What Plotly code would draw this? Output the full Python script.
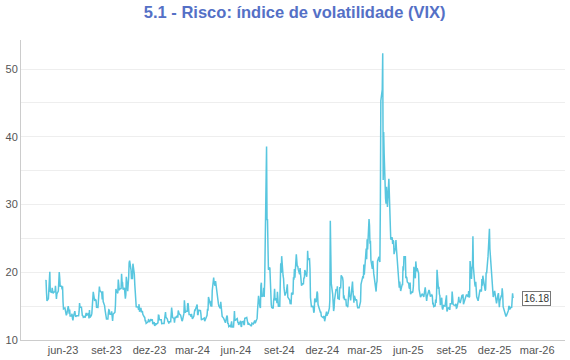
import pandas as pd
import plotly.graph_objects as go

# VIX daily closes (weekdays)
vix_2023 = [
    18.76, 18.84, 17.03, 15.78,  # Apr (from 25th)
    16.08, 17.78, 18.34, 20.09, 17.19, 16.98, 17.71, 16.94, 16.88, 17.03, 17.12, 17.99, 16.87, 16.05, 16.81, 17.21, 18.53, 20.03, 19.14, 17.95, 17.95, 17.46, 17.94,  # May
    15.65, 14.60, 14.73, 13.96, 13.94, 13.65, 13.83, 15.01, 14.61, 13.88, 14.50, 13.54, 13.54, 13.88, 13.20, 12.91, 13.44, 14.25, 13.74, 13.43, 13.54, 13.59,  # Jun
    13.57, 13.57, 14.18, 15.44, 14.83, 14.84, 14.05, 13.54, 13.61, 13.34, 13.48, 13.30, 13.76, 13.99, 13.60, 13.91, 13.86, 13.19, 14.41, 13.33, 13.63,  # Jul
    13.93, 16.09, 15.92, 17.10, 15.77, 15.99, 15.96, 15.85, 14.84, 14.82, 16.46, 16.78, 17.89, 17.30, 17.13, 16.97, 15.98, 17.20, 15.68, 15.08, 14.45, 14.21, 13.57,  # Aug
    13.09, 13.09, 14.02, 14.45, 14.40, 13.84, 13.80, 14.23, 13.48, 12.82, 13.79, 14.00, 14.11, 15.14, 17.54, 17.20, 16.90, 18.94, 18.22, 17.34, 17.52,  # Sep
    17.61, 19.78, 18.58, 18.49, 17.45, 17.70, 17.03, 16.09, 16.69, 19.32, 17.21, 17.88, 19.22, 21.40, 21.71, 20.37, 18.97, 20.19, 18.97, 21.27, 19.75, 18.14,  # Oct
    16.87, 15.66, 14.91, 14.89, 14.81, 14.45, 15.29, 14.17, 14.76, 14.16, 14.18, 14.32, 13.80, 13.41, 13.35, 12.85, 12.85, 12.46, 12.69, 12.69, 12.98, 12.92,  # Nov
    12.63, 13.08, 12.85, 12.97, 13.06, 12.35, 12.63, 12.07, 12.19, 12.48, 12.28, 12.56, 12.53, 13.67, 13.65, 13.03, 13.03, 12.99, 12.43, 12.47, 12.45,  # Dec
]
vix_2024 = [
    12.45, 13.20, 14.04, 14.13, 13.35, 13.08, 12.76, 12.69, 12.44, 12.70, 12.70, 13.84, 14.79, 14.13, 13.30, 13.19, 12.55, 13.14, 13.45, 13.26, 13.60, 13.31, 14.35,  # Jan
    13.88, 13.85, 13.67, 13.06, 12.83, 12.79, 12.93, 13.93, 15.85, 14.38, 14.01, 14.24, 14.24, 15.42, 15.34, 14.54, 13.75, 13.74, 13.43, 13.84, 13.40,  # Feb
    13.11, 13.49, 14.46, 14.50, 14.44, 14.74, 15.23, 13.75, 13.75, 14.40, 14.41, 14.33, 13.82, 12.92, 13.06, 13.06, 13.19, 13.24, 12.78, 13.01, 13.01,  # Mar
    13.65, 14.61, 14.33, 16.35, 16.03, 15.19, 14.98, 15.80, 14.91, 17.31, 19.23, 18.40, 18.21, 18.00, 18.71, 16.94, 15.69, 15.97, 15.37, 15.03, 14.67, 15.65,  # Apr
    14.80, 14.68, 13.49, 13.23, 13.00, 13.00, 12.69, 12.55, 13.60, 13.42, 12.45, 12.42, 11.99, 12.15, 11.86, 12.29, 12.77, 11.93, 11.93, 12.92, 14.27, 12.91, 12.92,  # May
    13.11, 13.16, 12.63, 12.58, 12.22, 12.74, 12.85, 12.04, 11.94, 12.66, 12.75, 12.30, 12.30, 13.28, 13.20, 13.33, 12.84, 12.55, 12.24, 12.44,  # Jun
    12.22, 12.03, 12.09, 12.09, 12.48, 12.37, 12.51, 12.85, 12.89, 12.46, 13.12, 13.19, 14.48, 15.93, 16.52, 14.91, 14.72, 18.04, 18.46, 16.39, 16.60, 17.69, 16.36,  # Jul
    18.59, 23.39, 38.57, 27.71, 27.85, 23.79, 20.37, 20.71, 18.12, 16.19, 15.23, 14.80, 14.65, 15.88, 16.27, 17.55, 15.86, 16.15, 15.43, 17.11, 15.65, 15.00,  # Aug
    15.00, 20.72, 21.32, 19.90, 22.38, 19.45, 19.08, 17.69, 17.07, 16.56, 17.14, 17.61, 18.23, 16.33, 16.15, 15.89, 15.39, 15.41, 15.37, 16.96, 16.73,  # Sep
    19.26, 18.90, 20.49, 19.21, 22.64, 21.42, 20.86, 20.93, 20.46, 19.70, 20.64, 19.58, 19.11, 18.03, 18.37, 18.20, 19.24, 19.08, 20.33, 19.80, 19.34, 20.35, 23.16,  # Oct
    21.88, 21.98, 20.49, 16.27, 15.20, 14.94, 14.97, 14.71, 14.02, 14.31, 16.14, 15.58, 16.35, 17.16, 16.87, 15.24, 14.60, 14.10, 14.10, 14.10, 13.51,  # Nov
    13.34, 13.30, 13.45, 13.54, 12.77, 14.19, 14.18, 13.58, 13.92, 13.81, 14.69, 15.87, 27.62, 24.09, 18.36, 16.78, 14.27, 14.27, 14.73, 15.95, 17.40, 17.35,  # Dec
]
vix_2025 = [
    17.35, 17.93, 16.13, 16.04, 17.82, 17.70, 17.70, 19.54, 19.19, 18.71, 16.12, 16.60, 15.97, 15.97, 15.06, 15.10, 15.02, 14.85, 17.90, 16.41, 16.56, 15.84, 16.43,  # Jan
    18.62, 17.21, 15.77, 15.50, 16.54, 15.81, 16.02, 15.89, 15.10, 14.77, 14.77, 15.35, 15.27, 15.66, 18.21, 18.98, 19.43, 19.10, 21.13, 19.63,  # Feb
    22.78, 23.51, 21.93, 24.87, 23.37, 27.86, 26.92, 24.23, 24.66, 21.77, 20.51, 21.70, 19.90, 19.80, 19.28, 17.48, 17.15, 18.33, 18.69, 21.65, 22.28,  # Mar
    21.77, 21.51, 30.02, 45.31, 46.98, 52.33, 33.62, 40.72, 37.56, 30.89, 30.12, 32.64, 29.65, 29.65, 33.82, 30.57, 28.45, 26.47, 24.84, 25.15, 24.17, 24.70,  # Apr
    24.60, 22.68, 23.64, 24.76, 23.55, 22.48, 21.90, 18.39, 17.72, 18.62, 17.83, 17.24, 18.14, 18.09, 20.87, 20.28, 22.29, 22.29, 19.11, 19.31, 19.18, 18.57,  # May
    18.36, 17.69, 17.61, 18.48, 16.77, 17.16, 16.95, 17.26, 18.02, 20.82, 19.11, 21.60, 20.14, 20.14, 20.62, 19.83, 17.48, 16.76, 16.59, 16.32, 16.73,  # Jun
    16.83, 16.64, 16.38, 16.38, 17.79, 16.81, 15.94, 15.78, 16.40, 17.20, 17.38, 17.16, 16.52, 16.41, 16.65, 16.50, 15.37, 15.39, 14.93, 15.03, 15.98, 15.48, 16.72,  # Jul
    20.38, 17.52, 17.85, 16.77, 16.57, 15.15, 16.25, 14.73, 14.49, 14.83, 15.09, 14.99, 15.57, 15.69, 16.60, 14.22, 14.79, 14.62, 14.85, 14.43, 15.36,  # Aug
    15.36, 17.17, 16.35, 15.30, 15.18, 15.11, 15.04, 15.35, 14.71, 14.76, 15.69, 16.36, 15.72, 15.70, 15.45, 16.10, 16.64, 16.18, 16.74, 15.29, 16.12, 16.28,  # Sep
    16.29, 16.63, 16.65, 16.37, 17.24, 16.30, 16.43, 21.66, 19.03, 20.81, 20.64, 25.31, 20.78, 18.23, 17.87, 18.60, 17.30, 16.37, 15.79, 16.42, 16.92, 16.91, 17.44,  # Oct
    17.17, 19.00, 18.01, 19.50, 19.08, 17.60, 17.28, 17.51, 20.00, 19.83, 22.38, 24.69, 23.66, 26.42, 23.43, 20.52, 18.56, 17.19, 17.19, 16.35,  # Nov
    17.24, 16.59, 16.08, 15.78, 15.41, 16.66, 16.93, 15.77, 14.85, 15.74, 16.50, 16.48, 17.62, 16.87, 14.91, 14.08, 14.00, 13.47, 13.47, 13.60, 14.20, 14.33, 14.95,  # Dec
]
vix_2026 = [14.95, 14.51, 14.90, 14.75, 15.38, 16.90, 16.18]  # Jan 1-9

year_spans = [("2023-04-25", "2023-12-31", vix_2023),
              ("2024-01-01", "2024-12-31", vix_2024),
              ("2025-01-01", "2025-12-31", vix_2025),
              ("2026-01-01", "2026-01-09", vix_2026)]

tick_dates = ["2023-06-01", "2023-09-01", "2023-12-01", "2024-03-01", "2024-06-01", "2024-09-01",
              "2024-12-01", "2025-03-01", "2025-06-01", "2025-09-01", "2025-12-01", "2026-03-01"]
tick_labels = ["jun-23", "set-23", "dez-23", "mar-24", "jun-24", "set-24",
               "dez-24", "mar-25", "jun-25", "set-25", "dez-25", "mar-26"]

dates, values = [], []
for start, end, vals in year_spans:
    d = list(pd.bdate_range(start, end))
    n = min(len(d), len(vals))
    dates += d[:n]
    values += vals[:n]

FONT = "Liberation Sans, Arial, sans-serif"

fig = go.Figure()
fig.add_trace(go.Scatter(x=dates, y=values, mode="lines",
                         line=dict(color="#58C6DF", width=1.5),
                         hoverinfo="skip", showlegend=False))

fig.add_annotation(x=dates[-1], y=values[-1], text=f"{values[-1]:.2f}",
                   showarrow=False, xanchor="left", yanchor="middle", xshift=9,
                   bordercolor="#777", borderwidth=1, borderpad=1, bgcolor="white",
                   font=dict(size=10, color="#333", family=FONT))

fig.update_layout(
    width=570, height=360,
    margin=dict(l=21, r=5, t=40, b=20, autoexpand=False),
    paper_bgcolor="white", plot_bgcolor="white",
    font=dict(family=FONT, size=11, color="#555"),
    hovermode=False,
    title=dict(text="<b>5.1 - Risco: índice de volatilidade (VIX)</b>",
               x=0.517, xanchor="center", y=0.967, yanchor="middle",
               font=dict(size=16.5, color="#5470C6", family=FONT)),
    xaxis=dict(range=["2023-03-04", "2026-04-29"], tickvals=tick_dates, ticktext=tick_labels,
               showgrid=False, showline=True, linecolor="#cccccc", linewidth=1,
               ticks="", zeroline=False, automargin=False,
               tickfont=dict(size=11, color="#555")),
    yaxis=dict(range=[10, 54.3], tickvals=[10, 20, 30, 40, 50], showgrid=True,
               gridcolor="#eeeeee", gridwidth=1,
               minor=dict(dtick=5, tick0=10, showgrid=True, gridcolor="#eeeeee", gridwidth=1),
               showline=True, linecolor="#cccccc", linewidth=1, ticks="", zeroline=False,
               automargin=False, tickfont=dict(size=11, color="#555")),
)

fig.write_html("out.html", config={"displayModeBar": False},
               post_script="document.body.style.margin='0';document.body.style.padding='0';")
